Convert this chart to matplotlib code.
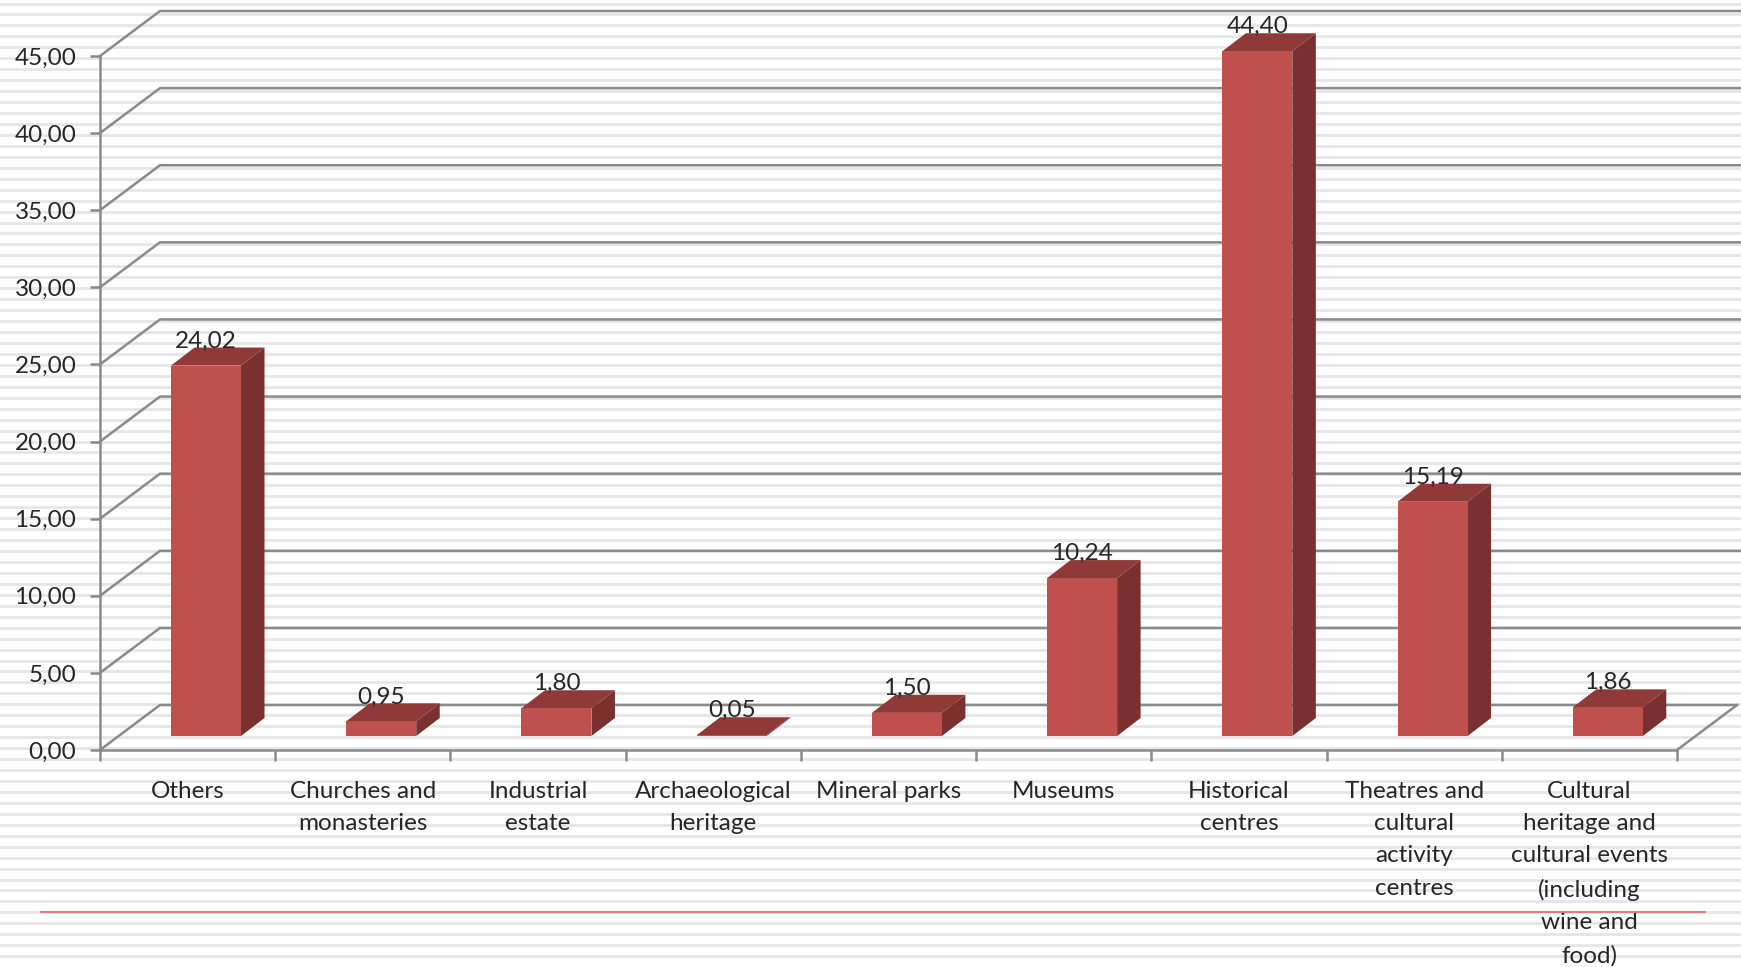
import numpy as np
import matplotlib
matplotlib.use('Agg')
from matplotlib import pyplot as plt
from matplotlib.patches import Polygon

categories = ['Others', 'Churches and\nmonasteries', 'Industrial\nestate', 'Archaeological\nheritage',
              'Mineral parks', 'Museums', 'Historical\ncentres', 'Theatres and\ncultural\nactivity\ncentres',
              'Cultural\nheritage and\ncultural events\n(including\nwine and\nfood)']
values = [24.02, 0.95, 1.80, 0.05, 1.50, 10.24, 44.40, 15.19, 1.86]
y_ticks = [0, 5, 10, 15, 20, 25, 30, 35, 40, 45]

W, H = 1741, 967
x0_px, x9_px = 100, 1677
y0_px, y45_px = 750, 56
px_x = (x9_px - x0_px) / 9
px_y = (y0_px - y45_px) / 45
GREY = '#8a8a8a'
TEXT = '#262626'
FONT = 17.5

plt.rcParams['font.family'] = ['Lato', 'DejaVu Sans']
fig = plt.figure(figsize=(W / 100, H / 100), dpi=100)
ax = fig.add_axes([0, 0, 1, 1])
ax.set_xlim(-x0_px / px_x, (W - x0_px) / px_x)
ax.set_ylim(-(H - y0_px) / px_y, y0_px / px_y)
ax.patch.set_alpha(0)

# depth of the chart floor and of the bars, in data units
depth_x, depth_y = 60 / px_x, 45 / px_y
bar_dx, bar_dy = 23.5 / px_x, 18 / px_y
bar_left, bar_width = 71 / px_x, 70 / px_x
bar_base = 14 / px_y

# striped slide background
for py in np.arange(3.5, H, 10.95):
    fig.add_artist(plt.Line2D([0, 1], [1 - py / H, 1 - py / H], color='#e6e6e6', lw=2.0, zorder=-5))

# walls
right_edge = (W - x0_px) / px_x
for t in y_ticks:
    end = 9 + depth_x if t == 0 else right_edge
    ax.plot([0, depth_x, end], [t, t + depth_y, t + depth_y], color=GREY, lw=1.8, zorder=1,
            solid_joinstyle='miter')
ax.plot([9, 9 + depth_x], [0, depth_y], color=GREY, lw=1.8, zorder=1)

# bars
for i, v in enumerate(values):
    l = i + bar_left
    r = l + bar_width
    b = bar_base
    t = b + v
    ax.add_patch(Polygon([(r, b), (r + bar_dx, b + bar_dy), (r + bar_dx, t + bar_dy), (r, t)],
                         facecolor='#7a302e', edgecolor='none', zorder=3))
    ax.add_patch(Polygon([(l, t), (l + bar_dx, t + bar_dy), (r + bar_dx, t + bar_dy), (r, t)],
                         facecolor='#8f3a38', edgecolor='none', zorder=3))
    ax.add_patch(Polygon([(l, b), (r, b), (r, t), (l, t)],
                         facecolor='#c0504d', edgecolor='none', zorder=4))
    ax.annotate(f'{v:.2f}'.replace('.', ','), xy=((l + r) / 2, t), xytext=(0, 14), textcoords='offset pixels',
                ha='center', va='bottom', fontsize=FONT, color=TEXT, zorder=5)

# axes
for s in ['top', 'right']:
    ax.spines[s].set_visible(False)
ax.spines['left'].set_position(('data', 0))
ax.spines['bottom'].set_position(('data', 0))
ax.spines['left'].set_bounds(0, 45)
ax.spines['bottom'].set_bounds(0, 9)
for s in ['left', 'bottom']:
    ax.spines[s].set_color(GREY)
    ax.spines[s].set_linewidth(1.8)
    ax.spines[s].set_zorder(2)

ax.set_yticks(y_ticks)
ax.set_yticklabels([f'{t:.2f}'.replace('.', ',') for t in y_ticks], fontsize=FONT, color=TEXT)
ax.tick_params(axis='y', length=7, width=1.8, color=GREY, pad=10)
ax.set_xticks(range(10))
ax.set_xticklabels([])
ax.tick_params(axis='x', which='major', length=8, width=1.8, color=GREY)
ax.set_xticks(np.arange(9) + 0.5, minor=True)
ax.set_xticklabels(categories, minor=True, fontsize=FONT, color=TEXT, linespacing=1.67)
ax.tick_params(axis='x', which='minor', length=0, pad=22)

# red rule across the slide
fig.add_artist(plt.Line2D([41 / W, 1705 / W], [1 - 912 / H, 1 - 912 / H], color='#e07b80', lw=1.5, zorder=6))

fig.savefig('out.png', dpi=100)
